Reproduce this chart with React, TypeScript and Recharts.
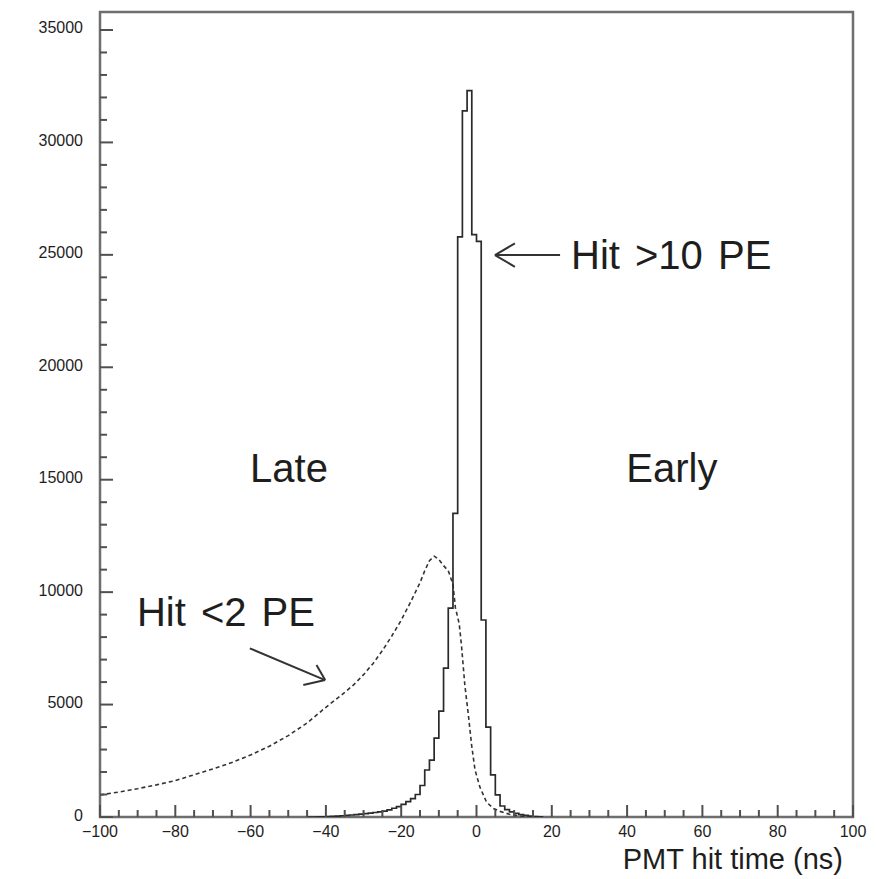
import React from 'react';
import { LineChart, Line, XAxis, YAxis, ReferenceLine, ReferenceDot, ReferenceArea } from 'recharts';

// hits with more than 10 photoelectrons: 1.25 ns bins, values per bin starting at HIT_GT10_START
const BIN_WIDTH = 1.25;
const HIT_GT10_START = -45;
const HIT_GT10 = [
  0, 0, 5, 10, 18, 28, 40, 55, 75, 90, 105, 125, 150, 170, 200, 230, 265, 320, 390, 460,
  560, 680, 820, 1000, 1400, 2090, 2530, 3510, 4710, 6620, 9290, 13500, 25800, 31400, 32300,
  25900, 25600, 8760, 4000, 1870, 980, 490, 330, 230, 160, 110, 70, 40, 20, 10, 0,
];

// hits with fewer than 2 photoelectrons (dashed)
const HIT_LT2_T = [
  -100, -95, -90, -85, -80, -75, -70, -65, -60, -55, -50, -45, -40, -35, -32.5, -30, -27.5, -25,
  -22.5, -20, -17.5, -15, -13.75, -12.5, -11.25, -10, -8.75, -7.5, -6.25, -5.6, -4.6, -4, -3.1,
  -2.2, -1.3, -0.4, 0.9, 2.7, 4.5, 6.25, 8.75, 11.25, 13.75,
];
const HIT_LT2 = [
  980, 1110, 1260, 1430, 1620, 1880, 2140, 2420, 2760, 3150, 3620, 4180, 4880, 5540, 5900, 6330,
  6820, 7400, 8050, 8750, 9560, 10420, 10950, 11400, 11600, 11450, 11180, 10950, 10350, 9300,
  8600, 7650, 5870, 4600, 3200, 2100, 1330, 650, 380, 250, 120, 50, 0,
];

const X_LABELS = [-100, -80, -60, -40, -20, 0, 20, 40, 60, 80, 100];
const Y_LABELS = [0, 5000, 10000, 15000, 20000, 25000, 30000, 35000];
const X_MINOR_STEP = 5;
const Y_MINOR_STEP = 1000;
const Y_MAX = 35800;

const gt10Data = HIT_GT10.map((v, i) => ({ t: HIT_GT10_START + i * BIN_WIDTH, v }));
const lt2Data = HIT_LT2_T.map((t, i) => ({ t, v: HIT_LT2[i] }));
const xTicks = Array.from({ length: 200 / X_MINOR_STEP + 1 }, (_, i) => -100 + i * X_MINOR_STEP);
const yTicks = Array.from({ length: 35000 / Y_MINOR_STEP + 1 }, (_, i) => i * Y_MINOR_STEP);

const FONT = '"Liberation Sans", Arial, Helvetica, sans-serif';
const AXIS = '#6e6e6e';
const TICK = '#505050';
const INK = '#1e1e1e';
const Y_GAP = 17;
const X_GAP = 9;

const YTick = (props: any) => {
  const { x, y, payload } = props;
  const major = Y_LABELS.includes(payload.value);
  const ax = x + Y_GAP;
  return (
    <g>
      <line x1={ax} y1={y} x2={ax + (major ? 13 : 7)} y2={y} stroke={TICK} strokeWidth={2} />
      {major && (
        <text x={x} y={y - 2} textAnchor="end" dominantBaseline="central" fontSize={16} fontFamily={FONT} fill={INK}>
          {payload.value}
        </text>
      )}
    </g>
  );
};

const XTick = (props: any) => {
  const { x, y, payload } = props;
  const v = payload.value;
  const major = X_LABELS.includes(v);
  const ay = y - X_GAP;
  return (
    <g>
      <line x1={x} y1={ay} x2={x} y2={ay - (major ? 12 : 7)} stroke={TICK} strokeWidth={2} />
      {major && (
        <text x={x} y={y} dy="0.71em" textAnchor="middle" fontSize={16} fontFamily={FONT} fill={INK}>
          {v < 0 ? `\u2212${-v}` : v}
        </text>
      )}
    </g>
  );
};

const note = (text: string, anchor: 'start' | 'middle', wordSpacing = 0) => (p: any) => (
  <text
    x={p.cx}
    y={p.cy}
    textAnchor={anchor}
    dominantBaseline="central"
    fontSize={40}
    fontFamily={FONT}
    fill={INK}
    style={{ wordSpacing }}
  >
    {text}
  </text>
);

const arrow = { stroke: '#333', strokeWidth: 2 };

export default function App() {
  return (
    <div style={{ position: 'absolute', left: 0, top: 0, width: 877, height: 879, background: '#fff' }}>
      <LineChart width={877} height={879} margin={{ top: 12, right: 24, left: 0, bottom: 0 }}>
        <XAxis
          dataKey="t"
          type="number"
          domain={[-100, 100]}
          ticks={xTicks}
          interval={0}
          allowDataOverflow
          axisLine={false}
          tickLine={false}
          tickSize={0}
          tickMargin={X_GAP}
          tick={<XTick />}
          height={62}
          label={{ value: 'PMT hit time (ns)', position: 'insideBottomRight', offset: 10, fontSize: 29, fill: INK, fontFamily: FONT }}
        />
        <YAxis
          type="number"
          domain={[0, Y_MAX]}
          ticks={yTicks}
          interval={0}
          allowDataOverflow
          axisLine={false}
          tickLine={false}
          tickSize={0}
          tickMargin={Y_GAP}
          tick={<YTick />}
          width={100}
        />
        <ReferenceArea x1={-100} x2={100} y1={0} y2={Y_MAX} fill="none" stroke={AXIS} strokeWidth={2.5} />
        <Line data={lt2Data} dataKey="v" type="linear" dot={false} stroke="#333" strokeWidth={1.6} strokeDasharray="4 3" isAnimationActive={false} />
        <Line data={gt10Data} dataKey="v" type="stepAfter" dot={false} stroke="#2a2a2a" strokeWidth={1.7} isAnimationActive={false} />

        <ReferenceLine segment={[{ x: 22.2, y: 24990 }, { x: 4.9, y: 24990 }]} {...arrow} />
        <ReferenceLine segment={[{ x: 4.9, y: 24990 }, { x: 10.2, y: 25510 }]} {...arrow} />
        <ReferenceLine segment={[{ x: 4.9, y: 24990 }, { x: 10.2, y: 24470 }]} {...arrow} />

        <ReferenceLine segment={[{ x: -60.2, y: 7500 }, { x: -40.2, y: 6090 }]} {...arrow} />
        <ReferenceLine segment={[{ x: -40.2, y: 6090 }, { x: -42.5, y: 6760 }]} {...arrow} />
        <ReferenceLine segment={[{ x: -40.2, y: 6090 }, { x: -46.0, y: 5870 }]} {...arrow} />

        <ReferenceDot x={25.1} y={24990} shape={note('Hit >10 PE', 'start', 4)} />
        <ReferenceDot x={-49.8} y={15520} shape={note('Late', 'middle')} />
        <ReferenceDot x={51.9} y={15520} shape={note('Early', 'middle')} />
        <ReferenceDot x={-90.2} y={9116} shape={note('Hit <2 PE', 'start', 4)} />
      </LineChart>
    </div>
  );
}
